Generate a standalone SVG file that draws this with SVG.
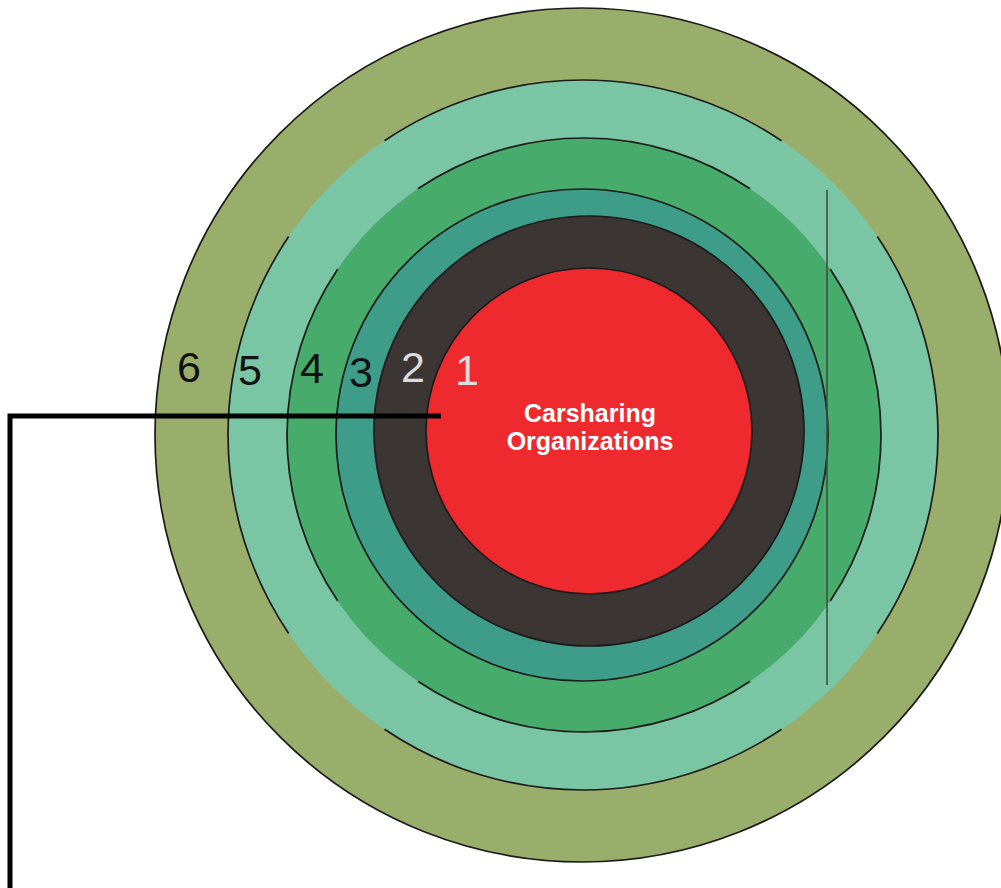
<svg xmlns="http://www.w3.org/2000/svg" width="1001" height="888" viewBox="0 0 1001 888">
  <style>
    .edge { fill: none; stroke: #1c1a1a; stroke-width: 1.7; }
    .disc { stroke: #1c1a1a; stroke-width: 1.7; }
    .num { font-family: "Liberation Sans", Arial, sans-serif; font-size: 43px; text-anchor: middle; }
    .dark { fill: #111111; }
    .light { fill: #dcdcdc; }
    .core { font-family: "Liberation Sans", Arial, sans-serif; font-size: 25px; font-weight: bold; fill: #ffffff; text-anchor: middle; }
    .lead { fill: none; stroke: #000000; stroke-width: 5; stroke-linejoin: miter; }
  </style>
  <rect width="1001" height="888" fill="#ffffff"/>

  <!-- ring 6 (outermost) -->
  <g id="ring6">
    <circle class="disc" cx="582" cy="435" r="427" fill="#9aae6b"/>
  </g>

  <!-- ring 5: outline broken along the diagonals -->
  <g id="ring5">
    <circle cx="583" cy="435" r="355" fill="#79c5a4"/>
    <path class="edge" d="M877.3,236.5 A355,355 0 0 1 877.3,633.5"/>
    <path class="edge" d="M781.5,729.3 A355,355 0 0 1 384.5,729.3"/>
    <path class="edge" d="M288.7,633.5 A355,355 0 0 1 288.7,236.5"/>
    <path class="edge" d="M384.5,140.7 A355,355 0 0 1 781.5,140.7"/>
  </g>

  <!-- ring 4: outline broken along the diagonals -->
  <g id="ring4">
    <circle cx="584" cy="435" r="297" fill="#47ab6c"/>
    <path class="edge" d="M830.2,268.9 A297,297 0 0 1 830.2,601.1"/>
    <path class="edge" d="M750.1,681.2 A297,297 0 0 1 417.9,681.2"/>
    <path class="edge" d="M337.8,601.1 A297,297 0 0 1 337.8,268.9"/>
    <path class="edge" d="M417.9,188.8 A297,297 0 0 1 750.1,188.8"/>
  </g>

  <!-- ring 3 -->
  <g id="ring3">
    <circle class="disc" cx="582" cy="435" r="246" fill="#3e9d89"/>
  </g>

  <!-- ring 2 -->
  <g id="ring2">
    <circle class="disc" cx="589" cy="431" r="215" fill="#3b3634"/>
  </g>

  <!-- ring 1: core -->
  <g id="ring1">
    <circle class="disc" cx="589" cy="431" r="163" fill="#ee2a2f"/>
    <text class="core" x="590" y="422">Carsharing</text>
    <text class="core" x="590" y="450">Organizations</text>
  </g>

  <!-- vertical marker line on the right -->
  <g id="marker">
    <line x1="827" y1="190" x2="827" y2="685" stroke="#3d4f45" stroke-width="1.6"/>
  </g>

  <!-- ring numbers -->
  <g id="labels">
    <text class="num dark" x="189" y="382">6</text>
    <text class="num dark" x="250" y="385">5</text>
    <text class="num dark" x="312" y="383">4</text>
    <text class="num dark" x="361" y="387">3</text>
    <text class="num light" x="413" y="382">2</text>
    <text class="num light" x="467" y="385">1</text>
  </g>

  <!-- elbow leader from the core down to the page edge -->
  <g id="connectors">
    <path class="lead" d="M441,416 H10 V888"/>
  </g>
</svg>
